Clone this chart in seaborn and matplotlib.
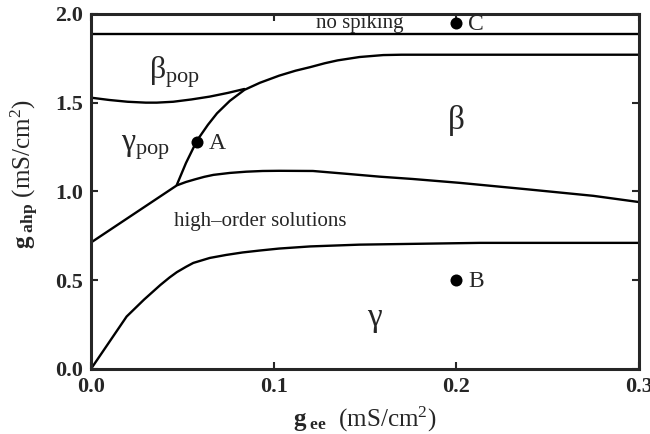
import numpy as np
import pandas as pd
import matplotlib
matplotlib.use('Agg')
import matplotlib.pyplot as plt
import seaborn as sns

sns.set_style("ticks")
plt.rcParams['font.family'] = ['Liberation Serif', 'DejaVu Serif']
plt.rcParams.update({'mathtext.fontset': 'custom', 'mathtext.rm': 'Liberation Serif',
                     'mathtext.it': 'Liberation Serif:italic', 'mathtext.bf': 'Liberation Serif:bold'})

# ---- boundaries (g_ee, g_ahp) ----
nospike_x = [0.0, 0.3]
nospike_y = [1.887, 1.887]

# beta_pop / gamma_pop boundary
betapop_x = [0.0, 0.01, 0.02, 0.03, 0.036, 0.045, 0.055, 0.065, 0.075, 0.084]
betapop_y = [1.528, 1.515, 1.505, 1.50, 1.50, 1.505, 1.518, 1.534, 1.555, 1.577]

# line through A up to the beta plateau
beta_x = [0.047, 0.052, 0.058, 0.064, 0.069, 0.076, 0.084, 0.0925, 0.103, 0.112, 0.12, 0.128, 0.135, 0.147, 0.16, 0.17, 0.3]
beta_y = [1.037, 1.16, 1.286, 1.375, 1.44, 1.51, 1.572, 1.612, 1.652, 1.68, 1.70, 1.722, 1.738, 1.757, 1.768, 1.77, 1.77]

# upper edge of high-order solutions
high_x = [0.0, 0.047, 0.052, 0.057, 0.062, 0.067, 0.076, 0.085, 0.094, 0.103, 0.1215, 0.14, 0.158, 0.176, 0.202, 0.2386, 0.275, 0.3]
high_y = [0.712, 1.034, 1.053, 1.068, 1.082, 1.093, 1.104, 1.111, 1.115, 1.116, 1.115, 1.099, 1.083, 1.07, 1.048, 1.012, 0.975, 0.94]

# lower edge of high-order solutions
low_x = [0.0, 0.0195, 0.029, 0.038, 0.043, 0.047, 0.052, 0.056, 0.065, 0.074, 0.083, 0.0925, 0.103, 0.12, 0.147, 0.18, 0.213, 0.3]
low_y = [0.0, 0.295, 0.39, 0.473, 0.515, 0.545, 0.575, 0.597, 0.625, 0.642, 0.656, 0.667, 0.678, 0.69, 0.70, 0.705, 0.71, 0.71]

pts_name = ['A', 'B', 'C']
pts_x = [0.058, 0.2, 0.2]
pts_y = [1.28, 0.5, 1.95]

fig = plt.figure(figsize=(6.5, 4.34), dpi=100)
ax = fig.add_axes([0.14, 0.150, 0.843, 0.818])

for xs, ys in [(nospike_x, nospike_y), (betapop_x, betapop_y), (beta_x, beta_y),
               (high_x, high_y), (low_x, low_y)]:
    sns.lineplot(x=xs, y=ys, ax=ax, color='black', linewidth=1.7, sort=False,
                 estimator=None, legend=False)

sns.scatterplot(x=pts_x, y=pts_y, ax=ax, color='black', s=75, edgecolor='black',
                linewidth=0, zorder=5, legend=False)
for n, px, py in zip(pts_name, pts_x, pts_y):
    ax.text(px + 0.0065, py - 0.01, n, fontsize=17, va='center', ha='left')

# region labels
ax.text(0.147, 1.944, 'no spiking', fontsize=15, ha='center', va='center')
ax.text(0.046, 1.67, r'$\mathrm{β}_{\mathrm{pop}}$', fontsize=23, ha='center', va='center')
ax.text(0.03, 1.25, r'$\mathrm{γ}_{\mathrm{pop}}$', fontsize=23, ha='center', va='center')
ax.text(0.2, 1.40, 'β', fontsize=24, ha='center', va='center')
ax.text(0.0925, 0.83, 'high–order solutions', fontsize=15, ha='center', va='center')
ax.text(0.155, 0.29, 'γ', fontsize=24, ha='center', va='center')

ax.set_xlim(0, 0.3)
ax.set_ylim(0, 2.0)
ax.set_xticks([0.0, 0.1, 0.2, 0.3])
ax.set_xticklabels(['0.0', '0.1', '0.2', '0.3'])
ax.set_yticks([0.0, 0.5, 1.0, 1.5, 2.0])
ax.set_yticklabels(['0.0', '0.5', '1.0', '1.5', '2.0'])
ax.tick_params(direction='in', length=5, width=1.5, top=True, right=True,
               labelsize=16, pad=6)
for lab in ax.get_xticklabels() + ax.get_yticklabels():
    lab.set_fontweight('bold')
for sp in ax.spines.values():
    sp.set_linewidth(2.2)
    sp.set_visible(True)

ax.set_xlabel(r'$\mathbf{g}_{\ \mathbf{ee}}$  (mS/cm$^2$)', fontsize=18)
ax.set_ylabel(r'$\mathbf{g}_{\ \mathbf{ahp}}$ (mS/cm$^2$)', fontsize=18)
ax.xaxis.set_label_coords(0.5, -0.10)
ax.yaxis.set_label_coords(-0.092, 0.55)

fig.savefig('out.png', dpi=100)
